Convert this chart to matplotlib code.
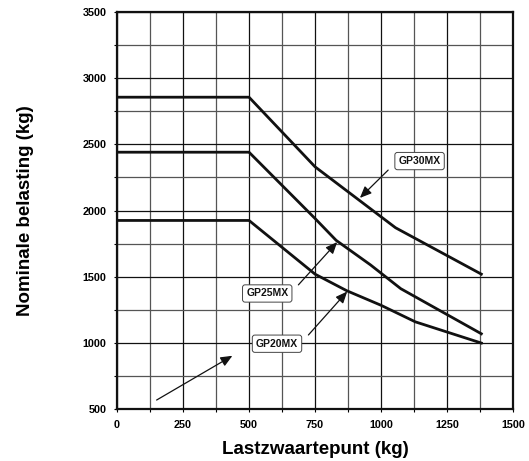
import matplotlib
matplotlib.use("Agg")
import matplotlib.pyplot as plt
from matplotlib.ticker import MultipleLocator

plt.rcParams['font.family'] = ['Liberation Sans', 'DejaVu Sans']

# Data
gp30_x = [0, 500, 750, 1055, 1380]
gp30_y = [2855, 2855, 2330, 1870, 1520]
gp25_x = [0, 500, 750, 830, 960, 1075, 1380]
gp25_y = [2440, 2440, 1940, 1775, 1590, 1410, 1070]
gp20_x = [0, 500, 750, 870, 1000, 1130, 1380]
gp20_y = [1925, 1925, 1520, 1395, 1285, 1160, 1000]

x_ticks = [0, 250, 500, 750, 1000, 1250, 1500]
y_ticks = [500, 1000, 1500, 2000, 2500, 3000, 3500]

labels = ["GP30MX", "GP25MX", "GP20MX"]
label_pos = [(1146, 2373), (569, 1374), (606, 995)]
arrow_tail = [(1027, 2305), (687, 1439), (725, 1061)]
arrow_tip = [(920, 2095), (834, 1762), (872, 1389)]
free_arrow_tail = (150, 570)
free_arrow_tip = (437, 904)

fig = plt.figure(figsize=(5.29, 4.61), dpi=100)
ax = fig.add_axes([0.2212, 0.1121, 0.9698 - 0.2212, 0.9746 - 0.1121])

ax.set_xlim(0, 1500)
ax.set_ylim(500, 3500)
ax.set_xticks(x_ticks)
ax.set_yticks(y_ticks)
ax.xaxis.set_minor_locator(MultipleLocator(125))
ax.yaxis.set_minor_locator(MultipleLocator(250))
ax.grid(which='major', color='#111111', linewidth=0.9)
ax.grid(which='minor', color='#555555', linewidth=0.9)
ax.set_axisbelow(True)
ax.tick_params(which='both', length=2.5, width=0.8, direction='out', pad=5,
               labelsize=7.8)
for lab in ax.get_xticklabels() + ax.get_yticklabels():
    lab.set_fontweight('bold')
for s in ax.spines.values():
    s.set_linewidth(1.6)
    s.set_color('#111111')

for xs, ys in [(gp30_x, gp30_y), (gp25_x, gp25_y), (gp20_x, gp20_y)]:
    ax.plot(xs, ys, color='#111111', linewidth=2.0, solid_joinstyle='round')

for lab, pos, tail, tip in zip(labels, label_pos, arrow_tail, arrow_tip):
    ax.annotate('', xy=tip, xytext=tail,
                arrowprops=dict(arrowstyle='-|>,head_length=0.7,head_width=0.3',
                                color='#111111', lw=0.9, shrinkA=0, shrinkB=0))
    ax.text(pos[0], pos[1], lab, fontsize=7.5, fontweight='bold', ha='center',
            va='center', color='#111111', zorder=5,
            bbox=dict(boxstyle='round,pad=0.35,rounding_size=0.25',
                      facecolor='white', edgecolor='#444444', linewidth=0.7))

ax.annotate('', xy=free_arrow_tip, xytext=free_arrow_tail,
            arrowprops=dict(arrowstyle='-|>,head_length=0.7,head_width=0.3',
                            color='#111111', lw=0.9, shrinkA=0, shrinkB=0))

ax.set_xlabel('Lastzwaartepunt (kg)', fontsize=13.5, fontweight='bold')
ax.set_ylabel('Nominale belasting (kg)', fontsize=13.5, fontweight='bold')
ax.xaxis.label.set_va('center')
ax.yaxis.label.set_va('center')
ax.xaxis.set_label_coords(0.5, (409.3 - 449) / 397.6)
ax.yaxis.set_label_coords((25 - 117) / 396, (409.3 - 211) / 397.6)

fig.savefig('out.png', dpi=100)
